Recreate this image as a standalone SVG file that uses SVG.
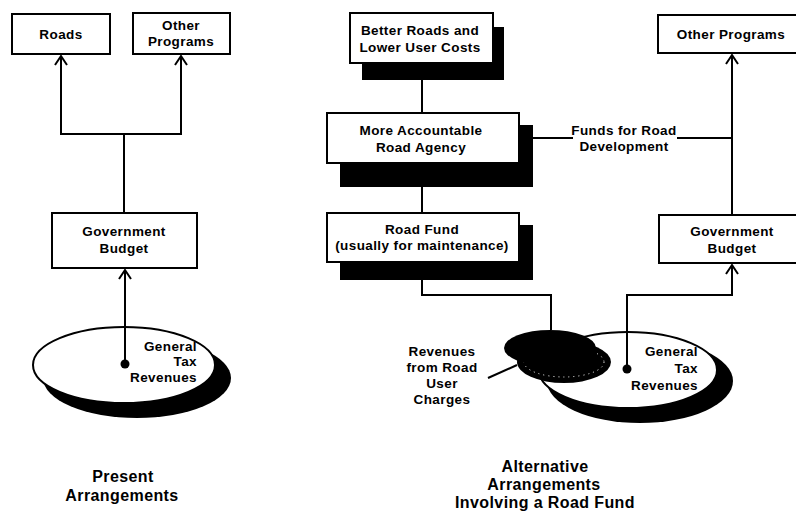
<svg xmlns="http://www.w3.org/2000/svg" width="796" height="516" viewBox="0 0 796 516">
<defs>
<style>
.box{fill:#fff;stroke:#000;stroke-width:2}
.sh{fill:#000}
.t{font-family:"Liberation Sans",Arial,sans-serif;font-weight:bold;font-size:13.5px;fill:#000;text-anchor:middle;letter-spacing:0.4px}
.tr{text-anchor:end}
.ttl{font-size:16px;letter-spacing:0.4px}
.ln{fill:none;stroke:#000;stroke-width:2}
</style>
<marker id="ah" markerUnits="userSpaceOnUse" markerWidth="14" markerHeight="14" viewBox="0 0 14 14" refX="12" refY="7" orient="auto">
<path d="M3,1 L12,7 L3,13" fill="none" stroke="#000" stroke-width="2"/>
</marker>
</defs>
<rect width="796" height="516" fill="#fff"/>

<!-- Left: Present Arrangements -->
<g id="roads-left">
<rect class="box" x="12" y="14" width="98" height="40"/>
<text class="t" x="61" y="39">Roads</text>
</g>
<g id="other-left">
<rect class="box" x="133" y="13" width="97" height="41"/>
<text class="t" x="181" y="30">Other</text>
<text class="t" x="181" y="46">Programs</text>
</g>
<g id="gov-left">
<rect class="box" x="52" y="213" width="145" height="55"/>
<text class="t" x="124" y="236">Government</text>
<text class="t" x="124" y="253">Budget</text>
</g>
<g id="tax-left">
<ellipse class="sh" cx="137" cy="378" rx="94" ry="40"/>
<ellipse cx="124" cy="365" rx="91" ry="38" fill="#fff" stroke="#000" stroke-width="2"/>
<circle cx="125" cy="364" r="4.5" fill="#000"/>
<text class="t tr" x="197" y="351">General</text>
<text class="t tr" x="197" y="366">Tax</text>
<text class="t tr" x="197" y="382">Revenues</text>
</g>
<g id="title-left">
<text class="t ttl" x="123" y="482">Present</text>
<text class="t ttl" x="122" y="501">Arrangements</text>
</g>

<!-- Right: Alternative -->
<g id="better-roads">
<rect class="sh" x="362" y="27" width="142" height="53"/>
<rect class="box" x="350" y="13" width="143" height="50"/>
<text class="t" x="420" y="35">Better Roads and</text>
<text class="t" x="420" y="52">Lower User Costs</text>
</g>
<g id="agency">
<rect class="sh" x="340" y="125" width="193" height="62"/>
<rect class="box" x="327" y="113" width="192" height="50"/>
<text class="t" x="421" y="135">More Accountable</text>
<text class="t" x="421" y="152">Road Agency</text>
</g>
<g id="road-fund">
<rect class="sh" x="340" y="225" width="193" height="55"/>
<rect class="box" x="327" y="213" width="192" height="49"/>
<text class="t" x="422" y="234">Road Fund</text>
<text class="t" x="422" y="250">(usually for maintenance)</text>
</g>
<g id="other-right">
<rect class="box" x="658" y="15" width="145" height="38"/>
<text class="t" x="731" y="39">Other Programs</text>
</g>
<g id="gov-right">
<rect class="box" x="659" y="215" width="144" height="48"/>
<text class="t" x="732" y="236">Government</text>
<text class="t" x="732" y="253">Budget</text>
</g>
<g id="tax-right">
<ellipse class="sh" cx="640" cy="381" rx="93" ry="42"/>
<ellipse cx="628" cy="370" rx="89" ry="38" fill="#fff" stroke="#000" stroke-width="2"/>
<circle cx="627" cy="369" r="4.5" fill="#000"/>
<text class="t tr" x="698" y="356">General</text>
<text class="t tr" x="698" y="373">Tax</text>
<text class="t tr" x="698" y="390">Revenues</text>
</g>
<g id="user-charges">
<ellipse class="sh" cx="564" cy="362" rx="47" ry="21"/>
<ellipse cx="564" cy="362" rx="40" ry="15" fill="none" stroke="#fff" stroke-width="1" stroke-dasharray="1 4"/>
<ellipse class="sh" cx="550" cy="348" rx="46" ry="18"/>
<text class="t" x="442" y="356">Revenues</text>
<text class="t" x="442" y="372">from Road</text>
<text class="t" x="442" y="388">User</text>
<text class="t" x="442" y="404">Charges</text>
</g>
<g id="funds-label">
<text class="t" x="624" y="135">Funds for Road</text>
<text class="t" x="624" y="151">Development</text>
</g>
<g id="title-right">
<text class="t ttl" x="545" y="472">Alternative</text>
<text class="t ttl" x="544" y="490">Arrangements</text>
<text class="t ttl" x="545" y="508">Involving a Road Fund</text>
</g>

<g id="connectors">
<!-- left -->
<path class="ln" d="M124,213 V134 H61 V56" marker-end="url(#ah)"/>
<path class="ln" d="M124,134 H181 V56" marker-end="url(#ah)"/>
<path class="ln" d="M125,364 V270" marker-end="url(#ah)"/>
<!-- right -->
<path class="ln" d="M422,80 V113"/>
<path class="ln" d="M422,187 V213"/>
<path class="ln" d="M422,280 V295 H551 V330"/>
<path class="ln" d="M627,369 V295 H732 V265" marker-end="url(#ah)"/>
<path class="ln" d="M732,215 V55" marker-end="url(#ah)"/>
<path class="ln" d="M533,138 H573"/>
<path class="ln" d="M677,138 H732"/>
<path class="ln" d="M488,378 L517,365" stroke-width="1.5"/>
</g>
</svg>
